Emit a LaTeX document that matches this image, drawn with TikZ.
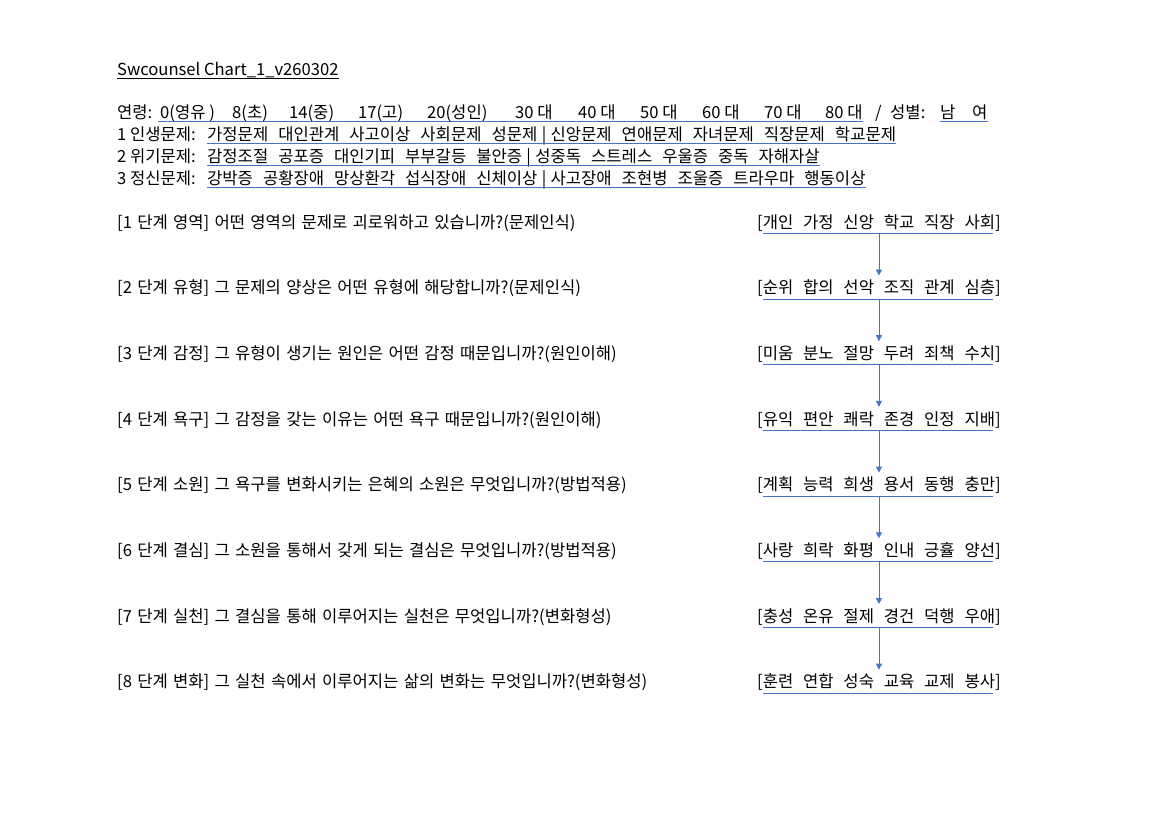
\documentclass[tikz,border=0pt]{standalone}
\usepackage{fontspec}
\setmainfont{Noto Sans CJK KR}
\usetikzlibrary{arrows.meta}
\definecolor{lineblue}{RGB}{68,114,196}

\begin{document}
\begin{tikzpicture}[x=1pt,y=-1pt,
    text_node/.style={anchor=base west,inner sep=0,text depth=3pt,font=\fontsize{16.6}{20}\selectfont},
    row_node/.style={anchor=base west,inner sep=0,text depth=3pt,font=\fontsize{16.6}{20}\selectfont\spaceskip 10pt\relax},
    step_node/.style={anchor=base west,inner sep=0,font=\fontsize{16.6}{20}\selectfont\spaceskip 5.3pt\relax},
    pick_node/.style={anchor=base west,inner sep=0,text height=18pt,text depth=5pt,font=\fontsize{16.6}{20}\selectfont\spaceskip 9.8pt\relax},
    uline/.style={draw=lineblue,line width=0.8pt},
    flow/.style={draw=lineblue,line width=0.8pt,-{Triangle[length=6pt,width=6pt]}}]
        \useasboundingbox (0,0) rectangle (1152,814);

        \node[text_node] (title) at (117,75) {Swcounsel Chart\_1\_v260302};
        \draw[line width=0.8pt] (title.south west) -- (title.south east);

        \node[text_node] (age) at (117,118) {연령:};
        \node[text_node] (a1) at (160,118) {0(영유 )};
        \node[text_node] (a2) at (232,118) {8(초)};
        \node[text_node] (a3) at (289,118) {14(중)};
        \node[text_node] (a4) at (358,118) {17(고)};
        \node[text_node] (a5) at (427,118) {20(성인)};
        \node[text_node] (a6) at (515,118) {30 대};
        \node[text_node] (a7) at (578,118) {40 대};
        \node[text_node] (a8) at (640,118) {50 대};
        \node[text_node] (a9) at (702,118) {60 대};
        \node[text_node] (a10) at (764,118) {70 대};
        \node[text_node] (a11) at (825,118) {80 대};
        \node[text_node] (slash) at (875,118) {/};
        \node[text_node] (sex) at (890,118) {성별:};
        \node[text_node] (male) at (940,118) {남};
        \node[text_node] (female) at (972,118) {여};

        \node[text_node] (p1) at (117,140) {1 인생문제:};
        \node[row_node] (q1) at (207,140) {가정문제 대인관계 사고이상 사회문제 성문제\hspace{4.4pt}|\hspace{4.4pt}신앙문제 연애문제 자녀문제 직장문제 학교문제};
        \node[text_node] (p2) at (117,162) {2 위기문제:};
        \node[row_node] (q2) at (207,162) {감정조절 공포증 대인기피 부부갈등 불안증\hspace{4.4pt}|\hspace{4.4pt}성중독 스트레스 우울증 중독 자해자살};
        \node[text_node] (p3) at (117,184) {3 정신문제:};
        \node[row_node] (q3) at (207,184) {강박증 공황장애 망상환각 섭식장애 신체이상\hspace{4.4pt}|\hspace{4.4pt}사고장애 조현병 조울증 트라우마 행동이상};

        \draw[uline] ([xshift=-2pt]a1.south west) -- (a11.south east);
        \draw[uline] (male.south west) -- (female.south east);
        \draw[uline] (q1.south west) -- (q1.south east);
        \draw[uline] (q2.south west) -- (q2.south east);
        \draw[uline] (q3.south west) -- (q3.south east);

        \node[step_node] (s1) at (117,228) {[1 단계 영역] 어떤 영역의 문제로 괴로워하고 있습니까?(문제인식)};
        \node[step_node] (s2) at (117,293.7) {[2 단계 유형] 그 문제의 양상은 어떤 유형에 해당합니까?(문제인식)};
        \node[step_node] (s3) at (117,359.4) {[3 단계 감정] 그 유형이 생기는 원인은 어떤 감정 때문입니까?(원인이해)};
        \node[step_node] (s4) at (117,425.1) {[4 단계 욕구] 그 감정을 갖는 이유는 어떤 욕구 때문입니까?(원인이해)};
        \node[step_node] (s5) at (117,490.8) {[5 단계 소원] 그 욕구를 변화시키는 은혜의 소원은 무엇입니까?(방법적용)};
        \node[step_node] (s6) at (117,556.5) {[6 단계 결심] 그 소원을 통해서 갖게 되는 결심은 무엇입니까?(방법적용)};
        \node[step_node] (s7) at (117,622.2) {[7 단계 실천] 그 결심을 통해 이루어지는 실천은 무엇입니까?(변화형성)};
        \node[step_node] (s8) at (117,687.9) {[8 단계 변화] 그 실천 속에서 이루어지는 삶의 변화는 무엇입니까?(변화형성)};

        \node[pick_node] (c1) at (757,228) {[개인 가정 신앙 학교 직장 사회]};
        \node[pick_node] (c2) at (757,293.7) {[순위 합의 선악 조직 관계 심층]};
        \node[pick_node] (c3) at (757,359.4) {[미움 분노 절망 두려 죄책 수치]};
        \node[pick_node] (c4) at (757,425.1) {[유익 편안 쾌락 존경 인정 지배]};
        \node[pick_node] (c5) at (757,490.8) {[계획 능력 희생 용서 동행 충만]};
        \node[pick_node] (c6) at (757,556.5) {[사랑 희락 화평 인내 긍휼 양선]};
        \node[pick_node] (c7) at (757,622.2) {[충성 온유 절제 경건 덕행 우애]};
        \node[pick_node] (c8) at (757,687.9) {[훈련 연합 성숙 교육 교제 봉사]};

        \draw[uline] ([xshift=6pt]c1.south west) -- ([xshift=-8pt]c1.south east);
        \draw[uline] ([xshift=6pt]c2.south west) -- ([xshift=-8pt]c2.south east);
        \draw[uline] ([xshift=6pt]c3.south west) -- ([xshift=-8pt]c3.south east);
        \draw[uline] ([xshift=6pt]c4.south west) -- ([xshift=-8pt]c4.south east);
        \draw[uline] ([xshift=6pt]c5.south west) -- ([xshift=-8pt]c5.south east);
        \draw[uline] ([xshift=6pt]c6.south west) -- ([xshift=-8pt]c6.south east);
        \draw[uline] ([xshift=6pt]c7.south west) -- ([xshift=-8pt]c7.south east);
        \draw[uline] ([xshift=6pt]c8.south west) -- ([xshift=-8pt]c8.south east);

        \draw[flow] (c1) -- (c2);
        \draw[flow] (c2) -- (c3);
        \draw[flow] (c3) -- (c4);
        \draw[flow] (c4) -- (c5);
        \draw[flow] (c5) -- (c6);
        \draw[flow] (c6) -- (c7);
        \draw[flow] (c7) -- (c8);
\end{tikzpicture}
\end{document}
